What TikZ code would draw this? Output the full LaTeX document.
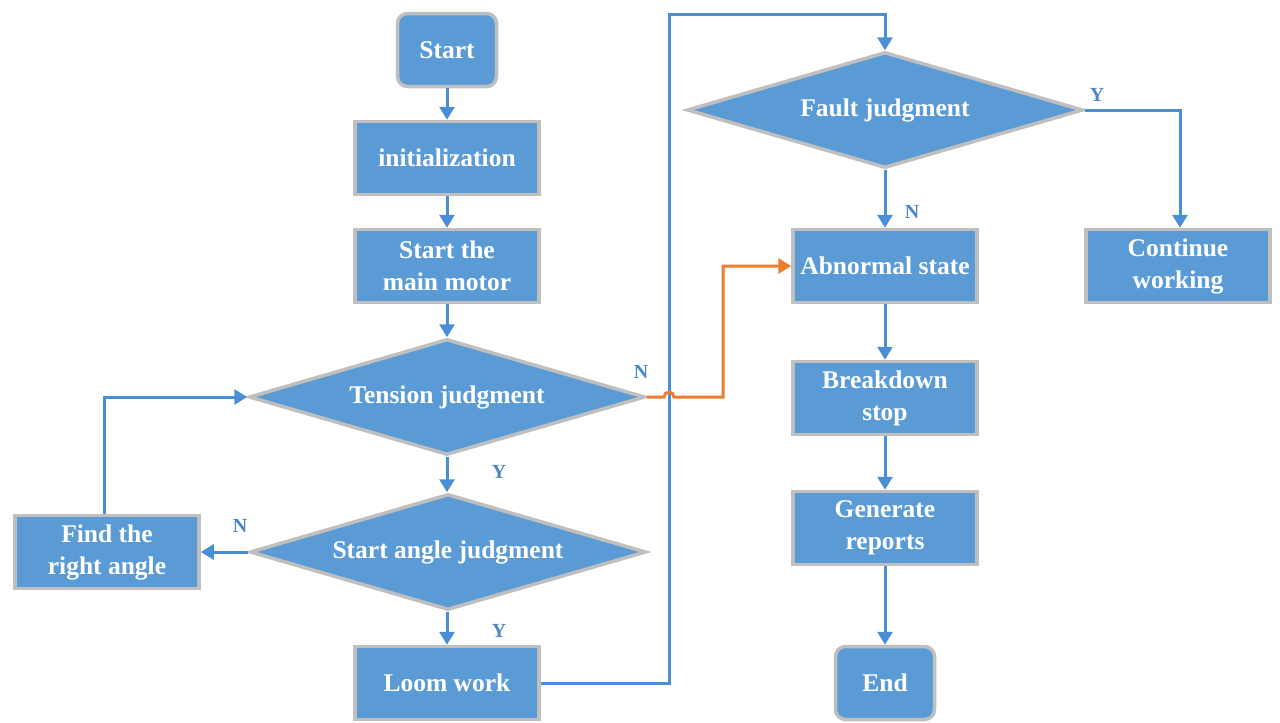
\documentclass[tikz,border=0pt]{standalone}
\usepackage{fontspec}
\setmainfont{Liberation Serif}
\usetikzlibrary{shapes.geometric,arrows.meta}
\definecolor{boxfill}{HTML}{5B9BD5}
\definecolor{boxedge}{HTML}{BFBFBF}
\definecolor{linkblue}{HTML}{4A8FD6}
\definecolor{labblue}{HTML}{4A86C8}
\definecolor{orangeline}{HTML}{ED7D31}
\begin{document}
\begin{tikzpicture}[x=1pt,y=-1pt,
  base/.style={fill=boxfill,draw=boxedge,line width=3.5pt,text=white,
    font=\fontsize{25.5}{32}\selectfont\bfseries,align=center,inner sep=0pt},
  procbox/.style={base,rectangle,minimum width=184pt,minimum height=73pt},
  termbox/.style={base,rectangle,rounded corners=10pt,minimum width=99pt,minimum height=73pt},
  decbox/.style={base,diamond,minimum width=396pt,minimum height=116pt,aspect=3.4},
  link/.style={draw=linkblue,line width=3pt,-{Triangle[width=15pt,length=13pt]}},
  lab/.style={text=labblue,font=\fontsize{20}{24}\selectfont\bfseries,inner sep=0pt}
]
\useasboundingbox (0,0) rectangle (1280,723);
% nodes
\node[termbox] (start) at (447,50) {Start};
\node[procbox] (init) at (447,158) {initialization};
\node[procbox] (motor) at (447,266) {Start the\\main motor};
\node[decbox] (tension) at (447,397) {Tension judgment};
\node[decbox] (angle) at (448,552) {Start angle judgment};
\node[procbox] (find) at (107,552) {Find the\\right angle};
\node[procbox] (loom) at (447,683) {Loom work};
\node[decbox] (fault) at (885,110) {Fault judgment};
\node[procbox] (abn) at (885,266) {Abnormal state};
\node[procbox] (cont) at (1178,266) {Continue\\working};
\node[procbox] (brk) at (885,398) {Breakdown\\stop};
\node[procbox] (gen) at (885,528) {Generate\\reports};
\node[termbox] (end) at (885,683) {End};
% coordinates
\coordinate (c1) at (669,14);
\coordinate (c2) at (104,397);
\coordinate (c3) at (723,266);
\coordinate (c4) at (1180,110);
% connectors
\draw[link] (start) -- (init);
\draw[link] (init) -- (motor);
\draw[link] (motor) -- (tension);
\draw[link] (tension.south) -- (tension.south |- angle.north);
\draw[link] (tension.south |- angle.south) -- (loom.north);
\draw[link] (angle.west) -- (find.east);
\draw[link] (find.north -| c2) |- (tension.west);
\draw[link] (loom.east) -| (c1) -| (fault.north);
\draw[link] (fault) -- (abn);
\draw[link] (fault.east) -| (cont.north -| c4);
\draw[link] (abn) -- (brk);
\draw[link] (brk) -- (gen);
\draw[link] (gen) -- (end);
\draw[draw=orangeline,line width=3pt,-{Triangle[width=15pt,length=13pt]}]
  (tension.east) -- (664,397) arc (180:360:5) -- (c3 |- tension.east) -- (c3) -- (abn.west);
% labels
\node[lab] (lN1) at (641,372) {N};
\node[lab] (lY1) at (499,472) {Y};
\node[lab] (lN2) at (240,526) {N};
\node[lab] (lY2) at (499,631) {Y};
\node[lab] (lY3) at (1097,95) {Y};
\node[lab] (lN3) at (912,212) {N};
\end{tikzpicture}
\end{document}
